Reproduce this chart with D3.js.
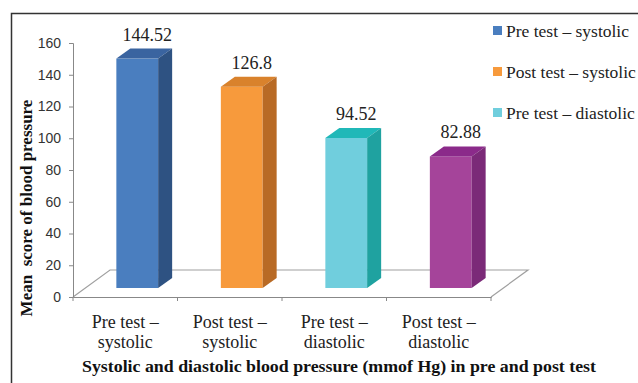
<!DOCTYPE html>
<html lang='en'>
	<head>
		<title>Blood pressure 3D bars</title>
		<script type='text/javascript' src='https://cdn.jsdelivr.net/npm/d3@7/dist/d3.min.js'></script>
		<style>body{margin:0;background:#fff} .serif{font-family:'Liberation Serif','Times New Roman',Times,serif}</style>
	</head>
	<body>
		<script type='text/javascript'>
			// chart data
			var categories = ['Pre test \u2013 systolic', 'Post test \u2013 systolic', 'Pre test \u2013 diastolic', 'Post test \u2013 diastolic'];
			var catLines = [['Pre test \u2013', 'systolic'], ['Post test \u2013', 'systolic'], ['Pre test \u2013', 'diastolic'], ['Post test \u2013', 'diastolic']];
			var values = [144.52, 126.8, 94.52, 82.88];
			var valueLabels = ['144.52', '126.8', '94.52', '82.88'];
			var yTicks = [0, 20, 40, 60, 80, 100, 120, 140, 160];
			var frontColors = ['#4a7ebf', '#f79a3c', '#70cedd', '#a5449a'];
			var topColors = ['#3a64a0', '#d9822c', '#20b8b8', '#8b2a8a'];
			var sideColors = ['#2e5282', '#b86a25', '#1fa2a0', '#7b2a78'];
			var legendShown = 3;

			var width = 638, height = 383;
			var svg = d3.select('body').append('svg').attr('width', width).attr('height', height);

			// outer frame (runs off the right and bottom edges)
			svg.append('rect').attr('x', 11.5).attr('y', 13.5).attr('width', 700).attr('height', 500)
				.attr('fill', 'none').attr('stroke', '#333').attr('stroke-width', 1.5);

			var y = d3.scaleLinear().domain([0, 160]).range([297, 43]);
			var x = d3.scaleBand().domain(categories).range([73, 491]);
			var floorDx = 37, floorDy = 27;   // depth of the floor
			var barDx = 12, barDy = 9;        // where the bar front sits in depth
			var sideDx = 14, sideDy = 10;     // bar depth
			var barW = x.bandwidth() * 0.4;

			// floor
			var x0 = x.range()[0], x1 = x.range()[1], y0 = y(0);
			svg.append('path')
				.attr('d', 'M' + x0 + ',' + y0 + 'L' + (x0 + floorDx) + ',' + (y0 - floorDy) + 'L' + (x1 + floorDx) + ',' + (y0 - floorDy) + 'L' + x1 + ',' + y0)
				.attr('fill', 'none').attr('stroke', '#a0a0a0').attr('stroke-width', 1.2);

			// y axis
			var yAxis = svg.append('g').attr('transform', 'translate(' + x0 + ',0)')
				.call(d3.axisLeft(y).tickValues(yTicks).tickSize(4).tickPadding(8));
			yAxis.attr('font-family', null).attr('font-size', null);
			yAxis.selectAll('path, line').attr('stroke', '#888');
			yAxis.selectAll('text').style('font-family', "'Liberation Sans', Arial, sans-serif").style('font-size', '14px').attr('fill', '#333');

			// x axis
			var xAxis = svg.append('g').attr('transform', 'translate(0,' + y0 + ')')
				.call(d3.axisBottom(x).tickSize(0).tickFormat(''));
			xAxis.select('path').attr('stroke', '#888');
			var boundaries = [x0].concat(categories.map(function(c){ return x(c) + x.bandwidth(); }));
			svg.selectAll('.xtick').data(boundaries).enter().append('line')
				.attr('x1', function(d){ return d; }).attr('x2', function(d){ return d; })
				.attr('y1', y0).attr('y2', y0 + 4).attr('stroke', '#888');

			// category labels
			var catG = svg.selectAll('.cat').data(categories).enter().append('text')
				.attr('class', 'serif').attr('text-anchor', 'middle').style('font-size', '18px').attr('fill', '#222');
			catG.selectAll('tspan').data(function(d, i){ return catLines[i]; }).enter().append('tspan')
				.attr('x', function(){ var c = d3.select(this.parentNode).datum(); return x(c) + x.bandwidth() / 2; })
				.attr('y', function(d, j){ return 328 + j * 20; })
				.text(function(d){ return d; });

			// bars
			var bars = svg.selectAll('.bar').data(values).enter().append('g');
			function fx(i){ return x(categories[i]) + x.bandwidth() / 2 - barW / 2 + barDx; }
			function fy(v){ return y(v) - barDy; }
			bars.append('rect')
				.attr('x', function(d, i){ return fx(i); })
				.attr('y', function(d){ return fy(d); })
				.attr('width', barW)
				.attr('height', function(d){ return fy(0) - fy(d); })
				.attr('fill', function(d, i){ return frontColors[i]; });
			bars.append('path')
				.attr('d', function(d, i){
					var l = fx(i), r = l + barW, t = fy(d);
					return 'M' + l + ',' + t + 'L' + (l + sideDx) + ',' + (t - sideDy) + 'L' + (r + sideDx) + ',' + (t - sideDy) + 'L' + r + ',' + t + 'Z';
				})
				.attr('fill', function(d, i){ return topColors[i]; });
			bars.append('path')
				.attr('d', function(d, i){
					var r = fx(i) + barW, t = fy(d), b = fy(0);
					return 'M' + r + ',' + t + 'L' + (r + sideDx) + ',' + (t - sideDy) + 'L' + (r + sideDx) + ',' + (b - sideDy) + 'L' + r + ',' + b + 'Z';
				})
				.attr('fill', function(d, i){ return sideColors[i]; });
			bars.append('text')
				.attr('class', 'serif')
				.attr('x', function(d, i){ return fx(i) + barW / 2 + 10; })
				.attr('y', function(d){ return fy(d) - sideDy - 8; })
				.attr('text-anchor', 'middle').style('font-size', '18px').attr('fill', '#222')
				.text(function(d, i){ return valueLabels[i]; });

			// axis titles
			svg.append('text')
				.attr('class', 'serif')
				.attr('transform', 'translate(32,208) rotate(-90)')
				.attr('text-anchor', 'middle').style('font-weight', 'bold').style('font-size', '17px').attr('fill', '#111')
				.style('white-space', 'pre')
				.text('Mean  score of blood pressure');
			svg.append('text')
				.attr('class', 'serif')
				.attr('x', 339).attr('y', 372)
				.attr('text-anchor', 'middle').style('font-weight', 'bold').style('font-size', '17px').attr('fill', '#111')
				.attr('textLength', 514).attr('lengthAdjust', 'spacingAndGlyphs')
				.text('Systolic and diastolic blood pressure (mmof Hg) in pre and post test');

			// legend
			var leg = svg.selectAll('.leg').data(categories.slice(0, legendShown)).enter().append('g')
				.attr('transform', function(d, i){ return 'translate(493,' + (31 + i * 41) + ')'; });
			leg.append('rect').attr('x', 0).attr('y', -5).attr('width', 9).attr('height', 9)
				.attr('fill', function(d, i){ return frontColors[i]; });
			leg.append('text').attr('class', 'serif').attr('x', 13).attr('y', 6)
				.style('font-size', '17.5px').attr('fill', '#222')
				.text(function(d){ return d; });
		</script>
	</body>
</html>
